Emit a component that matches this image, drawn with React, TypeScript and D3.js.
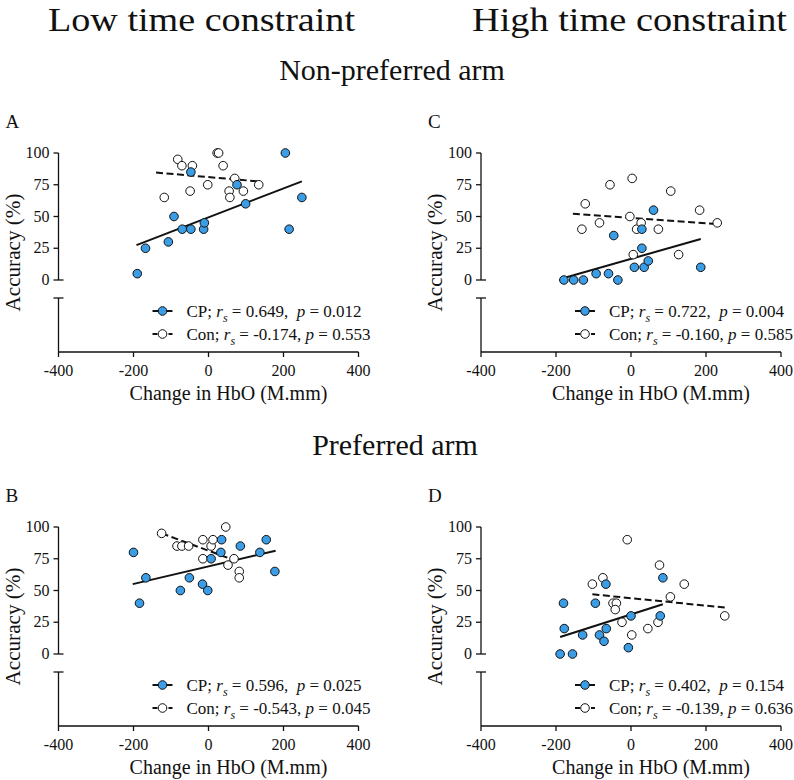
import React from "react";
import * as d3 from "d3";

// ---------- data ----------
const xTicks = [-400, -200, 0, 200, 400];
const yTicks = [0, 25, 50, 75, 100];

// Panel A: low time constraint, non-preferred arm
const cpA = [[-190, 5], [-168, 25], [-107, 30], [-92, 50], [-70, 40], [-47, 85], [-47, 40], [-13, 40], [-11, 45], [76, 75], [99, 60], [205, 100], [215, 40], [249, 65]];
const conA = [[-118, 65], [-82, 95], [-71, 90], [-43, 90], [-49, 70], [-2, 75], [23, 100], [27, 100], [39, 90], [55, 70], [57, 65], [70, 80], [93, 70], [134, 75]];
const fitCpA = [[-192, 27.5], [249, 77.7]];
const fitConA = [[-140, 84.6], [135, 77.6]];

// Panel C: high time constraint, non-preferred arm
const cpC = [[-179, 0], [-153, 0], [-127, 0], [-93, 5], [-60, 5], [-35, 0], [-46, 35], [9, 10], [29, 40], [29, 25], [35, 10], [46, 15], [60, 55], [186, 10]];
const conC = [[-131, 40], [-122, 60], [-84, 45], [-56, 75], [-3, 50], [3, 80], [6, 20], [15, 40], [27, 45], [73, 40], [106, 70], [127, 20], [183, 55], [230, 45]];
const fitCpC = [[-179, 1.6], [186, 32.3]];
const fitConC = [[-155, 52.2], [230, 44.1]];

// Panel B: low time constraint, preferred arm
const cpB = [[-200, 80], [-184, 40], [-167, 60], [-75, 50], [-51, 60], [-16, 55], [-2, 50], [7, 75], [33, 80], [35, 90], [85, 85], [137, 80], [154, 90], [177, 65]];
const conB = [[-125, 95], [-84, 85], [-71, 85], [-53, 85], [-15, 90], [-15, 75], [7, 85], [12, 90], [46, 100], [52, 70], [68, 75], [82, 65], [82, 60]];
const fitCpB = [[-202, 55], [179, 81.3]];
const fitConB = [[-125, 95], [82, 72.4]];

// Panel D: high time constraint, preferred arm
const cpD = [[-189, 0], [-156, 0], [-180, 40], [-178, 20], [-129, 15], [-95, 40], [-84, 15], [-72, 10], [-67, 55], [-66, 20], [-7, 5], [0, 30], [78, 30], [85, 60]];
const conD = [[-103, 55], [-75, 60], [-48, 40], [-39, 40], [-42, 35], [-24, 25], [-10, 90], [2, 15], [45, 20], [72, 25], [76, 70], [105, 45], [142, 55], [250, 30]];
const fitCpD = [[-189, 13.4], [85, 39.2]];
const fitConD = [[-103, 47], [250, 36.6]];

const statsCp = { A: ["0.649", "0.012"], C: ["0.722", "0.004"], B: ["0.596", "0.025"], D: ["0.402", "0.154"] };
const statsCon = { A: ["-0.174", "0.553"], C: ["-0.160", "0.585"], B: ["-0.543", "0.045"], D: ["-0.139", "0.636"] };

const titles = ["Low time constraint", "High time constraint"];
const rowTitles = ["Non-preferred arm", "Preferred arm"];
const xTitle = "Change in HbO (M.mm)";
const yTitle = "Accuracy (%)";

// ---------- style ----------
const FONT = "'Liberation Serif', 'Times New Roman', Times, serif";
const BLUE = "#3a9de6";
const INK = "#111";

type Pt = number[];

function Legend({ x0, y0, dashed, fill, label, r, p }: any) {
  return (
    <g>
      <line x1={x0} x2={x0 + 20} y1={y0} y2={y0} stroke={INK} strokeWidth={2}
        strokeDasharray={dashed ? "5 3" : undefined} />
      <circle cx={x0 + 10} cy={y0} r={4.3} fill={fill} stroke={INK} strokeWidth={1} />
      <text x={x0 + 34} y={y0 + 6} fontFamily={FONT} fontSize={17} fill={INK} style={{ whiteSpace: "pre" }}>
        {label + " "}
        <tspan fontStyle="italic">r</tspan>
        <tspan fontStyle="italic" fontSize={12} dy={5}>s</tspan>
        <tspan dy={-5}>{" = " + r + ","}{label === "CP;" ? "  " : " "}</tspan>
        <tspan fontStyle="italic">p</tspan>
        <tspan>{" = " + p}</tspan>
      </text>
    </g>
  );
}

function Panel({ ox, oy, letter, cp, con, fitCp, fitCon, sCp, sCon }: any) {
  const x = d3.scaleLinear().domain([-400, 400]).range([ox, ox + 300]);
  const y = d3.scaleLinear().domain([0, 100]).range([oy + 127, oy]);
  const breakTop = oy + 145;
  const axisY = oy + 199;
  const line = d3.line<Pt>().x((d) => x(d[0])).y((d) => y(d[1]));
  return (
    <g>
      <text x={ox - 53} y={oy - 25} fontFamily={FONT} fontSize={19} fill={INK}>{letter}</text>
      {/* y axis upper segment */}
      <line x1={ox} x2={ox} y1={y(100)} y2={y(0)} stroke={INK} strokeWidth={1.3} />
      {yTicks.map((t) => (
        <g key={t}>
          <line x1={ox - 5} x2={t === 0 ? ox + 5 : ox} y1={y(t)} y2={y(t)} stroke={INK} strokeWidth={1.3} />
          <text x={ox - 9} y={y(t) + 5} textAnchor="end" fontFamily={FONT} fontSize={16} fill={INK}>{t}</text>
        </g>
      ))}
      {/* y axis lower segment after break */}
      <line x1={ox} x2={ox} y1={breakTop} y2={axisY} stroke={INK} strokeWidth={1.3} />
      <line x1={ox - 5} x2={ox + 5} y1={breakTop} y2={breakTop} stroke={INK} strokeWidth={1.3} />
      {/* x axis */}
      <line x1={ox} x2={ox + 300} y1={axisY} y2={axisY} stroke={INK} strokeWidth={1.3} />
      {xTicks.map((t) => (
        <g key={t}>
          <line x1={x(t)} x2={x(t)} y1={axisY} y2={axisY + 5} stroke={INK} strokeWidth={1.3} />
          <text x={x(t)} y={axisY + 24} textAnchor="middle" fontFamily={FONT} fontSize={16} fill={INK}>{t}</text>
        </g>
      ))}
      <text x={ox + 170} y={axisY + 48} textAnchor="middle" fontFamily={FONT} fontSize={20} fill={INK}>{xTitle}</text>
      <text transform={`translate(${ox - 39},${(y(100) + axisY) / 2}) rotate(-90)`} textAnchor="middle"
        fontFamily={FONT} fontSize={20} textLength={118} lengthAdjust="spacingAndGlyphs" fill={INK}>{yTitle}</text>
      {/* fit lines */}
      <path d={line(fitCon) || ""} fill="none" stroke={INK} strokeWidth={2} strokeDasharray="7 3.5" />
      <path d={line(fitCp) || ""} fill="none" stroke={INK} strokeWidth={2} />
      {/* points */}
      {con.map((d: Pt, i: number) => (
        <circle key={"n" + i} cx={x(d[0])} cy={y(d[1])} r={4.3} fill="#fff" stroke={INK} strokeWidth={1} />
      ))}
      {cp.map((d: Pt, i: number) => (
        <circle key={"c" + i} cx={x(d[0])} cy={y(d[1])} r={4.3} fill={BLUE} stroke={INK} strokeWidth={1} />
      ))}
      <Legend x0={ox + 94} y0={axisY - 41} fill={BLUE} label="CP;" r={sCp[0]} p={sCp[1]} />
      <Legend x0={ox + 94} y0={axisY - 18} dashed fill="#fff" label="Con;" r={sCon[0]} p={sCon[1]} />
    </g>
  );
}

export default function App() {
  return (
    <svg width={794} height={780} style={{ position: "absolute", left: 0, top: 0, background: "#fff" }}>
      <rect width={794} height={780} fill="#fff" />
      <text x={201.5} y={31} textAnchor="middle" fontFamily={FONT} fontSize={34} textLength={307} lengthAdjust="spacingAndGlyphs" fill={INK}>{titles[0]}</text>
      <text x={629.5} y={31} textAnchor="middle" fontFamily={FONT} fontSize={34} textLength={315} lengthAdjust="spacingAndGlyphs" fill={INK}>{titles[1]}</text>
      <text x={392} y={80} textAnchor="middle" fontFamily={FONT} fontSize={30} fill={INK}>{rowTitles[0]}</text>
      <text x={395} y={455} textAnchor="middle" fontFamily={FONT} fontSize={30} fill={INK}>{rowTitles[1]}</text>
      <Panel ox={58.5} oy={153} letter="A" cp={cpA} con={conA} fitCp={fitCpA} fitCon={fitConA} sCp={statsCp.A} sCon={statsCon.A} />
      <Panel ox={481} oy={153} letter="C" cp={cpC} con={conC} fitCp={fitCpC} fitCon={fitConC} sCp={statsCp.C} sCon={statsCon.C} />
      <Panel ox={58.5} oy={527} letter="B" cp={cpB} con={conB} fitCp={fitCpB} fitCon={fitConB} sCp={statsCp.B} sCon={statsCon.B} />
      <Panel ox={481} oy={527} letter="D" cp={cpD} con={conD} fitCp={fitCpD} fitCon={fitConD} sCp={statsCp.D} sCon={statsCon.D} />
    </svg>
  );
}
